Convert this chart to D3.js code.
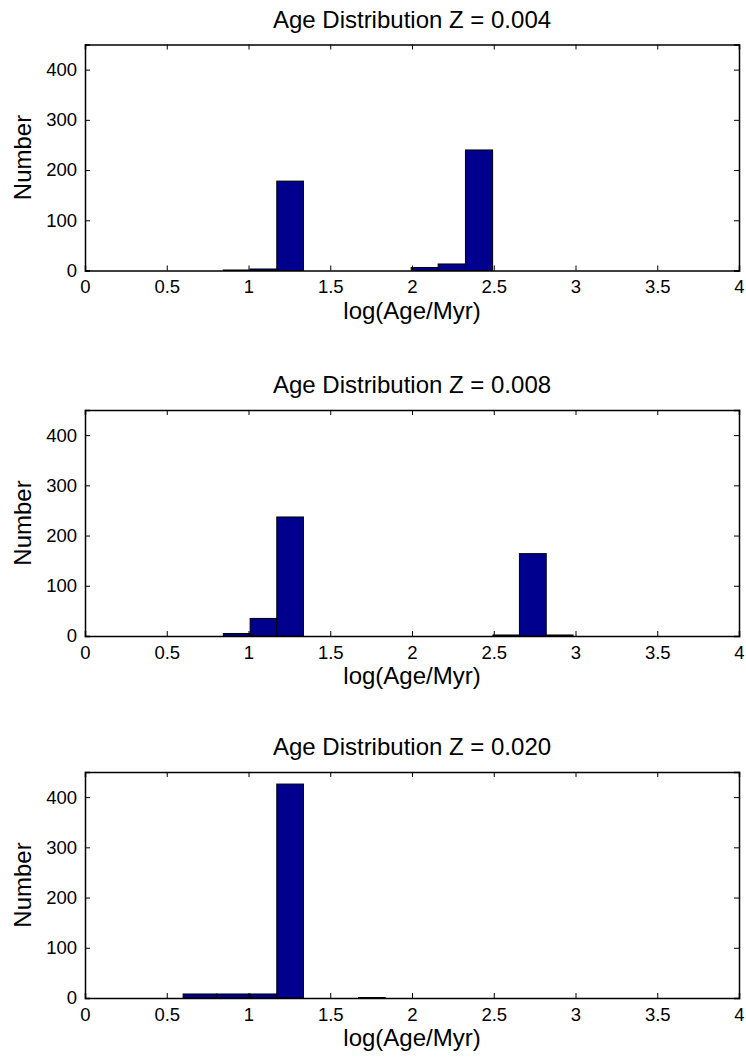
<!DOCTYPE html>
<html>
<head>
<meta charset="utf-8">
<script src="https://cdn.jsdelivr.net/npm/d3@7"></script>
<style>
  body { margin: 0; background: #fff; }
  text { font-family: "Liberation Sans", Arial, sans-serif; fill: #000; }
</style>
</head>
<body>
<div id="chart"></div>
<script>
"use strict";

// histogram bins (log age in Myr), one set per metallicity
var titles = ["Age Distribution Z = 0.004", "Age Distribution Z = 0.008", "Age Distribution Z = 0.020"];

var binLo1 = [0.846, 1.010, 1.173, 1.995, 2.160, 2.327];
var binHi1 = [1.010, 1.173, 1.336, 2.160, 2.327, 2.493];
var count1 = [1, 3, 178, 6, 13, 240];

var binLo2 = [0.846, 1.010, 1.173, 2.495, 2.657, 2.821];
var binHi2 = [1.010, 1.173, 1.336, 2.657, 2.821, 2.985];
var count2 = [5, 35, 237, 2, 164, 2];

var binLo3 = [0.600, 0.805, 1.010, 1.173, 1.673];
var binHi3 = [0.805, 1.010, 1.173, 1.336, 1.836];
var count3 = [8, 8, 8, 426, 1];

var xTicks = [0, 0.5, 1, 1.5, 2, 2.5, 3, 3.5, 4];
var xTickLabels = ["0", "0.5", "1", "1.5", "2", "2.5", "3", "3.5", "4"];
var yTicks = [0, 100, 200, 300, 400];

var panels = [
  { lo: binLo1, hi: binHi1, n: count1 },
  { lo: binLo2, hi: binHi2, n: count2 },
  { lo: binLo3, hi: binHi3, n: count3 }
];

var width = 746, height = 1063;
var left = 85, right = 739;
var tops = [44.5, 410, 772];
var plotH = 226;

var svg = d3.select("#chart").append("svg")
  .attr("width", width)
  .attr("height", height);

var x = d3.scaleLinear().domain([0, 4]).range([left, right]);

panels.forEach(function(p, i) {
  var top = tops[i];
  var y = d3.scaleLinear().domain([0, 450]).range([top + plotH, top]);
  var g = svg.append("g");

  var bins = p.n.map(function(v, j) {
    return { lo: p.lo[j], hi: p.hi[j], n: v };
  });

  g.selectAll(".bar")
    .data(bins)
    .enter()
    .append("rect")
    .attr("class", "bar")
    .attr("x", function(d) { return x(d.lo); })
    .attr("width", function(d) { return x(d.hi) - x(d.lo); })
    .attr("y", function(d) { return y(d.n); })
    .attr("height", function(d) { return y(0) - y(d.n); })
    .style("fill", "#00008f")
    .style("stroke", "#000")
    .style("stroke-width", 1);

  // axes with inward ticks on all four sides (matlab box)
  var bottomAx = g.append("g")
    .attr("transform", "translate(0," + y(0) + ")")
    .call(d3.axisBottom(x).tickValues(xTicks).tickSize(-5).tickPadding(9.5)
      .tickFormat(function(d, k) { return xTickLabels[k]; }));
  var topAx = g.append("g")
    .attr("transform", "translate(0," + top + ")")
    .call(d3.axisTop(x).tickValues(xTicks).tickSize(-5).tickFormat(""));
  var leftAx = g.append("g")
    .attr("transform", "translate(" + left + ",0)")
    .call(d3.axisLeft(y).tickValues(yTicks).tickSize(-5).tickPadding(8));
  var rightAx = g.append("g")
    .attr("transform", "translate(" + right + ",0)")
    .call(d3.axisRight(y).tickValues(yTicks).tickSize(-5).tickFormat(""));

  [bottomAx, topAx, leftAx, rightAx].forEach(function(a) {
    a.select(".domain").attr("stroke", "#000").attr("stroke-width", 1.5);
    a.selectAll(".tick line").attr("stroke", "#000");
    a.selectAll("text").style("font-size", "18.5px").attr("font-family", null);
  });

  g.append("text")
    .attr("x", (left + right) / 2)
    .attr("y", top - 17)
    .attr("text-anchor", "middle")
    .style("font-size", "24px")
    .text(titles[i]);

  g.append("text")
    .attr("x", (left + right) / 2)
    .attr("y", top + plotH + 48)
    .attr("text-anchor", "middle")
    .style("font-size", "24px")
    .text("log(Age/Myr)");

  g.append("text")
    .attr("transform", "translate(31," + (top + plotH / 2) + ") rotate(-90)")
    .attr("text-anchor", "middle")
    .style("font-size", "24px")
    .text("Number");
});
</script>
</body>
</html>
